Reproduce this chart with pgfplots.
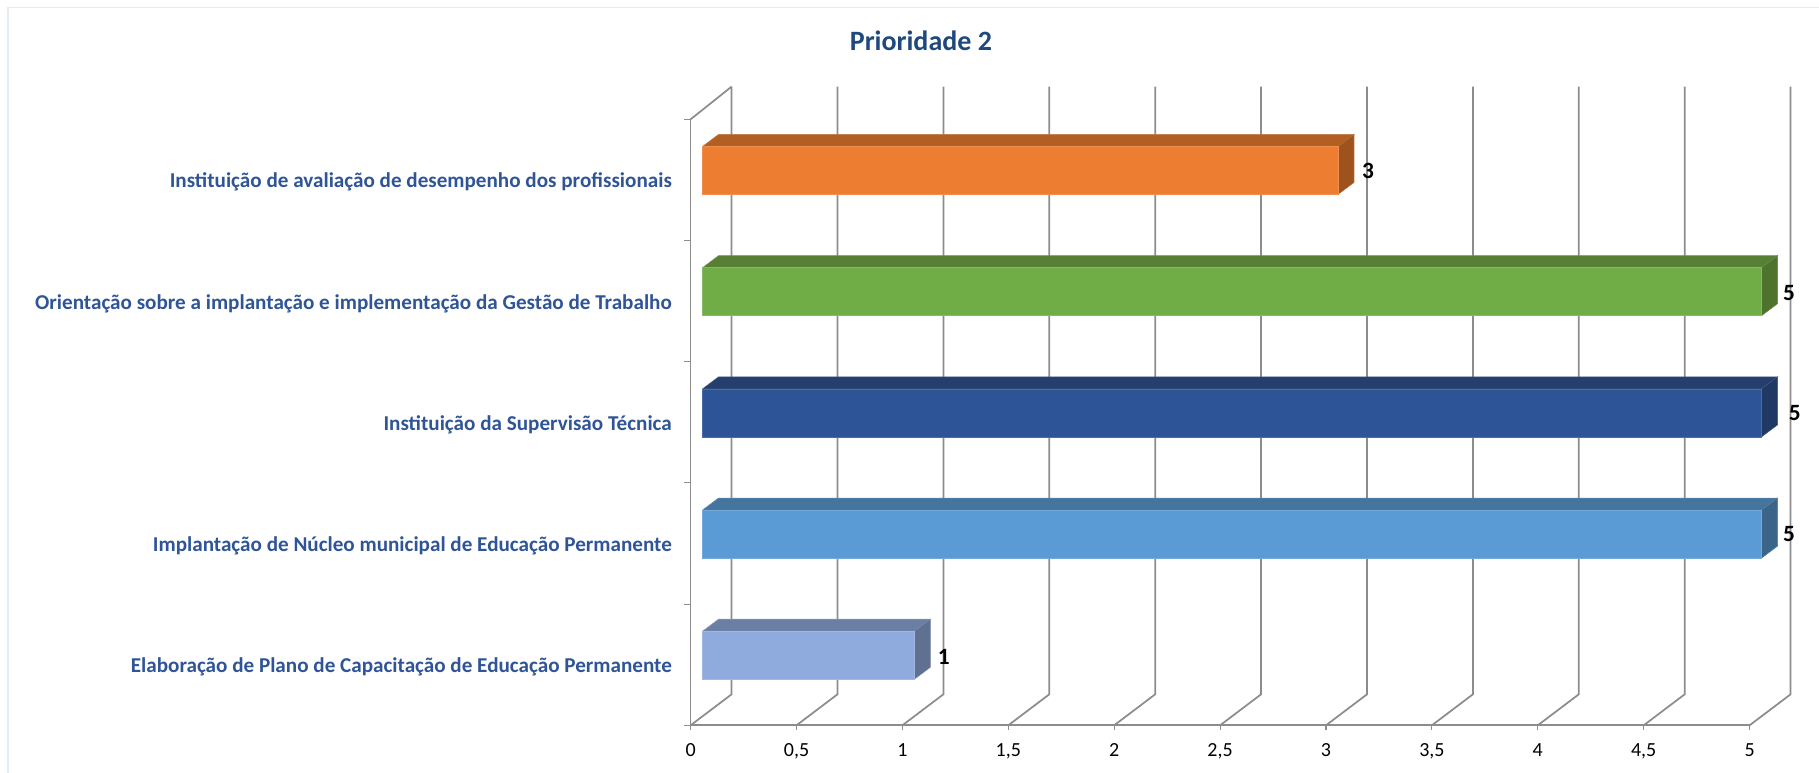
\documentclass[border=0pt]{standalone}
\usepackage{fontspec}
\setmainfont{Carlito}
\usepackage{pgfplots}
\pgfplotsset{compat=1.18}
\definecolor{wallgray}{HTML}{8C8C8C}
\definecolor{labelblue}{HTML}{2F5597}
\definecolor{titleblue}{HTML}{1F497D}
\definecolor{cardline}{HTML}{E4EDF6}
\definecolor{orF}{HTML}{ED7D31}\definecolor{orT}{HTML}{B35E22}\definecolor{orS}{HTML}{9E521D}
\definecolor{grF}{HTML}{70AD47}\definecolor{grT}{HTML}{588034}\definecolor{grS}{HTML}{4D732D}
\definecolor{dbF}{HTML}{2C5496}\definecolor{dbT}{HTML}{243E6E}\definecolor{dbS}{HTML}{1F3864}
\definecolor{lbF}{HTML}{5B9BD5}\definecolor{lbT}{HTML}{44759F}\definecolor{lbS}{HTML}{3A6588}
\definecolor{peF}{HTML}{8FAADC}\definecolor{peT}{HTML}{6B7FA5}\definecolor{peS}{HTML}{5F7090}

% one 3D bar: #1 centre on y axis, #2 value, #3 front, #4 top, #5 side
\newcommand{\solidbar}[5]{%
  \pgfmathsetmacro{\yb}{#1-0.198}%
  \pgfmathsetmacro{\yt}{#1+0.198}%
  \pgfmathsetmacro{\ybb}{\yb+0.099}%
  \pgfmathsetmacro{\ytt}{\yt+0.099}%
  \pgfmathsetmacro{\xx}{#2+0.0755}%
  \addplot[barshift,fill=#4,draw=#4!85!white,line width=0.4pt] coordinates {(0,\yt)(#2,\yt)(\xx,\ytt)(0.0755,\ytt)} -- cycle;
  \addplot[barshift,fill=#5,draw=#5!85!white,line width=0.4pt] coordinates {(#2,\yb)(\xx,\ybb)(\xx,\ytt)(#2,\yt)} -- cycle;
  \addplot[barshift,xbar,bar width=36pt,bar shift=0pt,fill=#3,draw=#3!85!white,line width=0.4pt] coordinates {(#2,#1)};
}

\begin{document}
\begin{tikzpicture}
\path[use as bounding box] (-517.95pt,-35.02pt) rectangle (846.3pt,543.98pt);
\draw[cardline,line width=0.9pt] (-512pt,-40pt) -- (-512pt,538.5pt) -- (850pt,538.5pt);
\begin{axis}[
    at={(0,0)},
    anchor=south west,
    scale only axis,
    width=794.25pt,
    height=454.5pt,
    clip=false,
    xmin=0, xmax=5,
    ymin=0, ymax=5,
    axis x line*=bottom,
    axis y line*=left,
    axis line style={wallgray,line width=1.3pt},
    tick align=outside,
    major tick length=3.4pt,
    xtick={0,0.5,1,1.5,2,2.5,3,3.5,4,4.5,5},
    ytick={0.5,1.5,2.5,3.5,4.5},
    xtick style={wallgray,line width=0.8pt},
    ytick style={draw=none},
    yticklabels={Elaboração de Plano de Capacitação de Educação Permanente,
      Implantação de Núcleo municipal de Educação Permanente,
      Instituição da Supervisão Técnica,
      Orientação sobre a implantação e implementação da Gestão de Trabalho,
      Instituição de avaliação de desempenho dos profissionais},
    /pgf/number format/.cd, use comma, assume math mode=true,
    /pgfplots/.cd,
    xticklabel style={font=\fontsize{15}{17}\selectfont,color=black,yshift=-6.5pt},
    yticklabel style={font=\fontsize{15.85}{18}\selectfont\bfseries,color=labelblue,anchor=east,inner sep=0pt,xshift=-10.5pt,yshift=-1.7pt},
    title={\fontsize{21}{25}\selectfont\bfseries\color{titleblue}Prioridade 2},
    title style={at={(axis description cs:0.2175,1.1165)},anchor=center},
    barshift/.style={xshift=9pt,yshift=7.1pt,forget plot},
]
% back wall
\pgfplotsinvokeforeach{0,0.5,1,1.5,2,2.5,3,3.5,4,4.5,5}{
  \draw[wallgray,line width=1.3pt] (axis cs:#1,0) -- ++(30.75pt,23.25pt) -- ++(0pt,455.7pt);
}
\draw[wallgray,line width=1.3pt] (axis cs:0,5) -- ++(30.75pt,24.5pt);
\pgfplotsinvokeforeach{0,1,2,3,4,5}{
  \draw[wallgray,line width=0.8pt] (axis cs:0,#1) -- ++(-5pt,0pt);
}

\solidbar{4.5}{3}{orF}{orT}{orS}
\solidbar{3.5}{5}{grF}{grT}{grS}
\solidbar{2.5}{5}{dbF}{dbT}{dbS}
\solidbar{1.5}{5}{lbF}{lbT}{lbS}
\solidbar{0.5}{1}{peF}{peT}{peS}

\node[font=\fontsize{17.5}{19}\selectfont\bfseries] at (axis cs:3.198,4.578) {3};
\node[font=\fontsize{17.5}{19}\selectfont\bfseries] at (axis cs:5.186,3.57) {5};
\node[font=\fontsize{17.5}{19}\selectfont\bfseries] at (axis cs:5.213,2.575) {5};
\node[font=\fontsize{17.5}{19}\selectfont\bfseries] at (axis cs:5.186,1.58) {5};
\node[font=\fontsize{17.5}{19}\selectfont\bfseries] at (axis cs:1.196,0.566) {1};
\end{axis}
\end{tikzpicture}
\end{document}
